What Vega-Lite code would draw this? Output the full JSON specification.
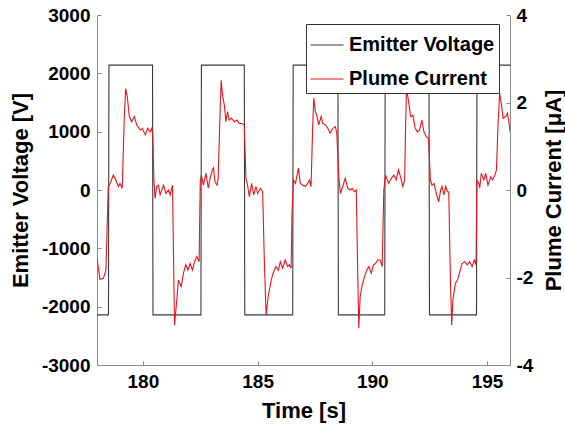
{
  "$schema": "https://vega.github.io/schema/vega-lite/v6.json",
  "width": 413,
  "height": 350,
  "autosize": {"type": "none"},
  "padding": {"left": 97, "top": 15, "right": 55, "bottom": 66},
  "config": {
    "view": {"stroke": null},
    "font": "Liberation Sans",
    "axis": {
      "grid": false,
      "domainColor": "#8a8a8a",
      "domainWidth": 1,
      "tickColor": "#8a8a8a",
      "tickWidth": 1,
      "tickSize": -4,
      "labelFont": "Liberation Sans",
      "labelFontSize": 19,
      "labelFontWeight": "bold",
      "labelColor": "#000000",
      "titleFont": "Liberation Sans",
      "titleFontSize": 22,
      "titleFontWeight": "bold",
      "titleColor": "#000000"
    }
  },
  "datasets": {
    "voltage": [
      {"t": 178.0, "v": -2140}, {"t": 178.5, "v": -2140}, {"t": 178.52, "v": 2140},
      {"t": 180.42, "v": 2140}, {"t": 180.44, "v": -2140},
      {"t": 182.53, "v": -2140}, {"t": 182.55, "v": 2140},
      {"t": 184.42, "v": 2140}, {"t": 184.44, "v": -2140},
      {"t": 186.53, "v": -2140}, {"t": 186.55, "v": 2140},
      {"t": 188.5, "v": 2140}, {"t": 188.52, "v": -2140},
      {"t": 190.54, "v": -2140}, {"t": 190.56, "v": 2140},
      {"t": 192.47, "v": 2140}, {"t": 192.49, "v": -2140},
      {"t": 194.54, "v": -2140}, {"t": 194.56, "v": 2140},
      {"t": 196.0, "v": 2140}
    ],
    "current": [
      {"t": 178.0, "v": -1.56}, {"t": 178.13, "v": -2.04}, {"t": 178.28, "v": -2.02}, {"t": 178.39, "v": -1.83},
      {"t": 178.49, "v": 0.08}, {"t": 178.57, "v": 0.15}, {"t": 178.71, "v": 0.34}, {"t": 178.82, "v": 0.23},
      {"t": 178.93, "v": 0.08}, {"t": 179.0, "v": 0.15}, {"t": 179.1, "v": 0.04}, {"t": 179.19, "v": 1.68},
      {"t": 179.25, "v": 2.32}, {"t": 179.32, "v": 2.13}, {"t": 179.41, "v": 1.68}, {"t": 179.51, "v": 1.56},
      {"t": 179.63, "v": 1.68}, {"t": 179.73, "v": 1.49}, {"t": 179.88, "v": 1.37}, {"t": 179.98, "v": 1.41},
      {"t": 180.1, "v": 1.26}, {"t": 180.21, "v": 1.41}, {"t": 180.31, "v": 1.33}, {"t": 180.39, "v": 1.41},
      {"t": 180.43, "v": 1.26}, {"t": 180.48, "v": 0.23}, {"t": 180.53, "v": -0.19}, {"t": 180.6, "v": 0.08},
      {"t": 180.68, "v": 0.11}, {"t": 180.75, "v": -0.11}, {"t": 180.9, "v": 0.11}, {"t": 181.0, "v": -0.08},
      {"t": 181.11, "v": 0.0}, {"t": 181.19, "v": -0.11}, {"t": 181.29, "v": 0.11}, {"t": 181.35, "v": -2.06},
      {"t": 181.38, "v": -3.09}, {"t": 181.45, "v": -2.67}, {"t": 181.55, "v": -2.06}, {"t": 181.67, "v": -2.21},
      {"t": 181.77, "v": -1.9}, {"t": 181.87, "v": -1.71}, {"t": 181.96, "v": -1.83}, {"t": 182.06, "v": -1.68},
      {"t": 182.16, "v": -1.83}, {"t": 182.25, "v": -1.64}, {"t": 182.35, "v": -1.52}, {"t": 182.45, "v": -1.64},
      {"t": 182.5, "v": 0.19}, {"t": 182.55, "v": 0.34}, {"t": 182.64, "v": 0.11}, {"t": 182.75, "v": 0.38},
      {"t": 182.85, "v": 0.04}, {"t": 182.93, "v": 0.27}, {"t": 183.03, "v": 0.46}, {"t": 183.08, "v": 0.51},
      {"t": 183.14, "v": 0.19}, {"t": 183.23, "v": 0.11}, {"t": 183.28, "v": 0.27}, {"t": 183.37, "v": 1.87},
      {"t": 183.41, "v": 2.51}, {"t": 183.47, "v": 2.17}, {"t": 183.55, "v": 1.94}, {"t": 183.62, "v": 1.56},
      {"t": 183.69, "v": 1.79}, {"t": 183.76, "v": 1.6}, {"t": 183.86, "v": 1.64}, {"t": 183.98, "v": 1.56},
      {"t": 184.1, "v": 1.6}, {"t": 184.2, "v": 1.52}, {"t": 184.3, "v": 1.52}, {"t": 184.42, "v": 1.49},
      {"t": 184.49, "v": 0.27}, {"t": 184.56, "v": 0.11}, {"t": 184.64, "v": -0.15}, {"t": 184.74, "v": 0.15},
      {"t": 184.83, "v": -0.11}, {"t": 184.93, "v": 0.08}, {"t": 185.0, "v": -0.08}, {"t": 185.12, "v": 0.04},
      {"t": 185.22, "v": -0.04}, {"t": 185.29, "v": -1.56}, {"t": 185.37, "v": -2.86}, {"t": 185.47, "v": -2.4},
      {"t": 185.61, "v": -2.02}, {"t": 185.7, "v": -1.87}, {"t": 185.8, "v": -1.75}, {"t": 185.9, "v": -1.83},
      {"t": 185.99, "v": -1.64}, {"t": 186.09, "v": -1.79}, {"t": 186.2, "v": -1.6}, {"t": 186.31, "v": -1.75},
      {"t": 186.38, "v": -1.71}, {"t": 186.46, "v": -1.79}, {"t": 186.5, "v": -0.53}, {"t": 186.56, "v": 0.23},
      {"t": 186.65, "v": 0.15}, {"t": 186.78, "v": 0.5}, {"t": 186.86, "v": 0.15}, {"t": 186.97, "v": 0.11},
      {"t": 187.08, "v": 0.08}, {"t": 187.18, "v": 0.15}, {"t": 187.26, "v": 0.23}, {"t": 187.33, "v": 0.08},
      {"t": 187.4, "v": 1.45}, {"t": 187.45, "v": 2.1}, {"t": 187.52, "v": 1.79}, {"t": 187.58, "v": 1.71},
      {"t": 187.66, "v": 1.49}, {"t": 187.77, "v": 1.68}, {"t": 187.84, "v": 1.52}, {"t": 187.96, "v": 1.49},
      {"t": 188.06, "v": 1.41}, {"t": 188.16, "v": 1.3}, {"t": 188.28, "v": 1.41}, {"t": 188.39, "v": 1.45},
      {"t": 188.45, "v": 1.3}, {"t": 188.54, "v": 0.3}, {"t": 188.61, "v": -0.08}, {"t": 188.71, "v": 0.08},
      {"t": 188.82, "v": 0.27}, {"t": 188.93, "v": 0.04}, {"t": 189.03, "v": 0.0}, {"t": 189.12, "v": 0.04},
      {"t": 189.22, "v": -0.04}, {"t": 189.3, "v": 0.0}, {"t": 189.37, "v": -2.06}, {"t": 189.41, "v": -3.16},
      {"t": 189.47, "v": -2.44}, {"t": 189.56, "v": -2.17}, {"t": 189.66, "v": -1.98}, {"t": 189.76, "v": -1.83},
      {"t": 189.85, "v": -1.75}, {"t": 189.95, "v": -1.9}, {"t": 190.05, "v": -1.71}, {"t": 190.14, "v": -1.68},
      {"t": 190.24, "v": -1.6}, {"t": 190.34, "v": -1.6}, {"t": 190.43, "v": -1.75}, {"t": 190.5, "v": 0.0},
      {"t": 190.58, "v": 0.34}, {"t": 190.71, "v": 0.15}, {"t": 190.83, "v": 0.27}, {"t": 190.94, "v": 0.34},
      {"t": 191.04, "v": 0.23}, {"t": 191.14, "v": 0.46}, {"t": 191.23, "v": 0.3}, {"t": 191.33, "v": 0.08},
      {"t": 191.41, "v": 0.23}, {"t": 191.45, "v": 1.45}, {"t": 191.49, "v": 2.32}, {"t": 191.58, "v": 2.02},
      {"t": 191.67, "v": 1.68}, {"t": 191.77, "v": 1.71}, {"t": 191.87, "v": 1.41}, {"t": 191.96, "v": 1.33},
      {"t": 192.06, "v": 1.37}, {"t": 192.16, "v": 1.6}, {"t": 192.25, "v": 1.33}, {"t": 192.35, "v": 1.22},
      {"t": 192.45, "v": 1.18}, {"t": 192.53, "v": 0.23}, {"t": 192.6, "v": 0.11}, {"t": 192.69, "v": 0.15},
      {"t": 192.79, "v": -0.08}, {"t": 192.89, "v": -0.27}, {"t": 192.98, "v": 0.0}, {"t": 193.04, "v": 0.08},
      {"t": 193.12, "v": -0.11}, {"t": 193.2, "v": 0.08}, {"t": 193.27, "v": -0.04}, {"t": 193.33, "v": -0.04},
      {"t": 193.41, "v": -2.21}, {"t": 193.46, "v": -3.09}, {"t": 193.51, "v": -2.51}, {"t": 193.62, "v": -2.13},
      {"t": 193.71, "v": -2.06}, {"t": 193.81, "v": -1.87}, {"t": 193.91, "v": -1.68}, {"t": 194.03, "v": -1.64},
      {"t": 194.14, "v": -1.71}, {"t": 194.24, "v": -1.64}, {"t": 194.35, "v": -1.75}, {"t": 194.44, "v": -1.6},
      {"t": 194.52, "v": -1.71}, {"t": 194.56, "v": 0.23}, {"t": 194.64, "v": 0.15}, {"t": 194.68, "v": 0.04},
      {"t": 194.75, "v": 0.38}, {"t": 194.86, "v": 0.23}, {"t": 194.94, "v": 0.38}, {"t": 195.04, "v": 0.11},
      {"t": 195.16, "v": 0.3}, {"t": 195.24, "v": 0.23}, {"t": 195.34, "v": 0.34}, {"t": 195.41, "v": 0.46},
      {"t": 195.48, "v": 1.52}, {"t": 195.55, "v": 2.21}, {"t": 195.63, "v": 1.94}, {"t": 195.7, "v": 1.64},
      {"t": 195.81, "v": 1.68}, {"t": 195.89, "v": 1.75}, {"t": 195.96, "v": 1.52}, {"t": 196.0, "v": 1.33}
    ]
  },
  "layer": [
    {
      "data": {"name": "voltage"},
      "mark": {"type": "line", "strokeWidth": 1.1, "clip": true},
      "encoding": {
        "x": {
          "field": "t",
          "type": "quantitative",
          "scale": {"domain": [178, 196], "nice": false, "zero": false},
          "axis": {
            "values": [180, 185, 190, 195],
            "title": "Time [s]",
            "labelPadding": 11,
            "titleX": 206.5,
            "titleY": 45,
            "titleBaseline": "middle",
            "titleAlign": "center"
          }
        },
        "y": {
          "field": "v",
          "type": "quantitative",
          "scale": {"domain": [-3000, 3000], "nice": false, "zero": false},
          "axis": {
            "orient": "left",
            "values": [-3000, -2000, -1000, 0, 1000, 2000, 3000],
            "labelExpr": "datum.value < 0 ? '-' + abs(datum.value) : '' + datum.value",
            "title": "Emitter Voltage [V]",
            "labelPadding": 11,
            "titleAngle": -90,
            "titleX": -77,
            "titleY": 175,
            "titleAlign": "center",
            "titleBaseline": "middle"
          }
        },
        "color": {
          "datum": "Emitter Voltage",
          "scale": {"domain": ["Emitter Voltage", "Plume Current"], "range": ["#3a3a3a", "#e8141c"]},
          "legend": {
            "orient": "none",
            "legendX": 209,
            "legendY": 9,
            "title": null,
            "symbolType": "stroke",
            "symbolSize": 1089,
            "symbolStrokeWidth": 1,
            "labelFont": "Liberation Sans",
            "labelFontSize": 20,
            "labelFontWeight": "bold",
            "labelColor": "#000000",
            "labelOffset": 5,
            "strokeColor": "#333333",
            "fillColor": "#ffffff",
            "padding": 4,
            "rowPadding": 7
          }
        }
      }
    },
    {
      "data": {"name": "current"},
      "mark": {"type": "line", "strokeWidth": 1.1, "clip": true},
      "encoding": {
        "x": {"field": "t", "type": "quantitative"},
        "y": {
          "field": "v",
          "type": "quantitative",
          "scale": {"domain": [-4, 4], "nice": false, "zero": false},
          "axis": {
            "orient": "right",
            "values": [-4, -2, 0, 2, 4],
            "labelExpr": "datum.value < 0 ? '-' + abs(datum.value) : '' + datum.value",
            "title": "Plume Current [μA]",
            "labelPadding": 10,
            "titleAngle": -90,
            "titleX": 43,
            "titleY": 175,
            "titleAlign": "center",
            "titleBaseline": "middle"
          }
        },
        "color": {"datum": "Plume Current"}
      }
    }
  ],
  "resolve": {"scale": {"y": "independent"}}
}
